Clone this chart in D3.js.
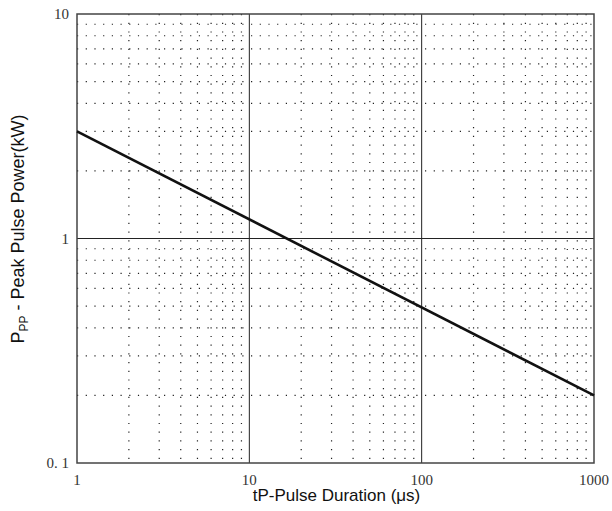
<!DOCTYPE html>
<html>
<head>
<meta charset="utf-8">
<script src="https://cdn.jsdelivr.net/npm/d3@7"></script>
<style>
body { margin: 0; background: #fff; }
</style>
</head>
<body>
<div id="chart"></div>
<script>
// data
const xDomain = [1, 1000];
const yDomain = [0.1, 10];
const xTicks = [1, 10, 100, 1000];
const xTickLabels = ["1", "10", "100", "1000"];
const yTicks = [0.1, 1, 10];
const yTickLabels = ["0. 1", "1", "10"];
const curveX = [1, 1000];
const curveY = [3.0, 0.2];

const width = 612, height = 511;
const margin = { left: 77, right: 18, top: 14, bottom: 48 };
const innerW = width - margin.left - margin.right;
const innerH = height - margin.top - margin.bottom;

const x = d3.scaleLog().domain(xDomain).range([0, innerW]);
const y = d3.scaleLog().domain(yDomain).range([innerH, 0]);

const svg = d3.select("#chart").append("svg")
    .attr("width", width).attr("height", height);
const g = svg.append("g").attr("transform", `translate(${margin.left},${margin.top})`);

// minor grid (2..9 per decade), dotted
const minorX = [], minorY = [];
[1, 10, 100].forEach(d => { for (let k = 2; k <= 9; k++) minorX.push(d * k); });
[0.1, 1].forEach(d => { for (let k = 2; k <= 9; k++) minorY.push(d * k); });

g.selectAll("line.minx").data(minorX).join("line")
    .attr("x1", d => x(d)).attr("x2", d => x(d))
    .attr("y1", 0).attr("y2", innerH)
    .attr("stroke", "#222").attr("stroke-width", 1.2)
    .attr("stroke-dasharray", "1.2,7.5");

g.selectAll("line.miny").data(minorY).join("line")
    .attr("y1", d => y(d)).attr("y2", d => y(d))
    .attr("x1", 0).attr("x2", innerW)
    .attr("stroke", "#222").attr("stroke-width", 1.2)
    .attr("stroke-dasharray", "1.2,7.5");

// major grid, solid
g.selectAll("line.majx").data([10, 100]).join("line")
    .attr("x1", d => x(d)).attr("x2", d => x(d))
    .attr("y1", 0).attr("y2", innerH)
    .attr("stroke", "#222").attr("stroke-width", 1);

g.selectAll("line.majy").data([1]).join("line")
    .attr("y1", d => y(d)).attr("y2", d => y(d))
    .attr("x1", 0).attr("x2", innerW)
    .attr("stroke", "#222").attr("stroke-width", 1);

// frame
g.append("rect")
    .attr("width", innerW).attr("height", innerH)
    .attr("fill", "none").attr("stroke", "#444").attr("stroke-width", 1.5);

// curve
const line = d3.line().x(d => x(d[0])).y(d => y(d[1]));
g.append("path")
    .datum(curveX.map((v, i) => [v, curveY[i]]))
    .attr("d", line)
    .attr("fill", "none").attr("stroke", "#111").attr("stroke-width", 2.6);

// tick labels
g.selectAll("text.xt").data(xTicks).join("text")
    .attr("x", d => x(d)).attr("y", innerH + 22)
    .attr("text-anchor", "middle")
    .attr("font-family", "Liberation Serif, serif").attr("font-size", 15)
    .attr("fill", "#333")
    .text((d, i) => xTickLabels[i]);

g.selectAll("text.yt").data(yTicks).join("text")
    .attr("x", -8).attr("y", d => y(d) + 5)
    .attr("text-anchor", "end")
    .attr("font-family", "Liberation Serif, serif").attr("font-size", 15)
    .attr("fill", "#333")
    .text((d, i) => yTickLabels[i]);

// axis titles
svg.append("text")
    .attr("x", margin.left + innerW / 2 + 1).attr("y", 501)
    .attr("text-anchor", "middle")
    .attr("font-family", "Liberation Sans, Arial, sans-serif").attr("font-size", 17)
    .attr("fill", "#111")
    .text("tP-Pulse Duration (μs)");

const yt = svg.append("text")
    .attr("transform", "translate(24,229) rotate(-90)")
    .attr("text-anchor", "middle")
    .attr("font-family", "Liberation Sans, Arial, sans-serif").attr("font-size", 18)
    .attr("fill", "#111");
yt.append("tspan").text("P");
yt.append("tspan").attr("font-size", 12).attr("dy", 4).text("PP");
yt.append("tspan").attr("dy", -4).text(" - Peak Pulse Power(kW)");
</script>
</body>
</html>
